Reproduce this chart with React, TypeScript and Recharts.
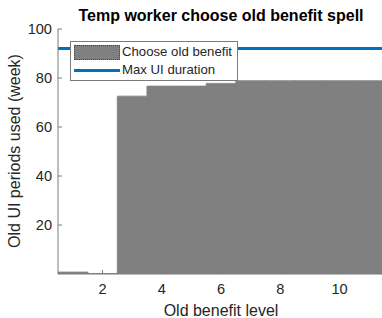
import { ComposedChart, Bar, XAxis, YAxis, ReferenceLine } from 'recharts';

const levels = [1, 2, 3, 4, 5, 6, 7, 8, 9, 10, 11];
const periodsUsed = [0.8, 0.2, 72.6, 76.7, 76.7, 77.8, 78.9, 78.9, 78.9, 78.9, 78.9];
const maxUiDuration = 92;
const xTicks = [2, 4, 6, 8, 10];
const yTicks = [20, 40, 60, 80, 100];

const data = levels.map((level, i) => ({ level, used: periodsUsed[i] }));

const font = '"Liberation Sans", Arial, Helvetica, sans-serif';
const ink = '#262626';
const axisStroke = '#7a7a7a';
const barGray = '#808080';
const lineBlue = '#0072BD';

function LegendBox() {
  return (
    <div
      style={{
        position: 'absolute',
        left: 70,
        top: 41,
        width: 166,
        height: 38,
        background: '#fff',
        border: `1px solid ${axisStroke}`,
        fontFamily: font,
        fontSize: 13.2,
        color: ink,
      }}
    >
      <div style={{ position: 'absolute', left: 3, top: 3, width: 44, height: 13, background: barGray, border: '1px dotted #444' }} />
      <div style={{ position: 'absolute', left: 51, top: 2, lineHeight: '16px' }}>Choose old benefit</div>
      <div style={{ position: 'absolute', left: 3, top: 27, width: 46, height: 3, background: lineBlue }} />
      <div style={{ position: 'absolute', left: 51, top: 20, lineHeight: '16px' }}>Max UI duration</div>
    </div>
  );
}

export default function App() {
  return (
    <div style={{ position: 'fixed', left: 0, top: 0, width: 382, height: 318, overflow: 'hidden', background: '#fff' }}>
      <ComposedChart
        width={400}
        height={318}
        data={data}
        margin={{ top: 29, right: 16, bottom: 14, left: 0 }}
        barCategoryGap={0}
        barGap={0}
      >
        <XAxis
          dataKey="level"
          type="number"
          domain={[0.5, 11.5]}
          ticks={xTicks}
          height={30}
          allowDataOverflow
          tickSize={-4}
          tickMargin={14}
          axisLine={{ stroke: axisStroke }}
          tickLine={{ stroke: axisStroke }}
          tick={{ fill: ink, fontSize: 14.6, fontFamily: font }}
        />
        <YAxis
          type="number"
          domain={[0, 100]}
          ticks={yTicks}
          width={58}
          allowDataOverflow
          tickSize={-4}
          tickMargin={10}
          axisLine={{ stroke: axisStroke }}
          tickLine={{ stroke: axisStroke }}
          tick={{ fill: ink, fontSize: 14.6, fontFamily: font }}
        />
        <Bar dataKey="used" fill={barGray} stroke={barGray} strokeWidth={0.8} isAnimationActive={false} />
        <ReferenceLine y={maxUiDuration} stroke={lineBlue} strokeWidth={3} />
      </ComposedChart>

      <div
        style={{
          position: 'absolute',
          left: 58,
          width: 326,
          top: 6,
          textAlign: 'center',
          fontFamily: font,
          fontWeight: 'bold',
          fontSize: 16,
          color: '#000',
          lineHeight: '20px',
        }}
      >
        Temp worker choose old benefit spell
      </div>
      <div
        style={{
          position: 'absolute',
          left: 58,
          width: 326,
          top: 301,
          textAlign: 'center',
          fontFamily: font,
          fontSize: 16,
          color: ink,
          lineHeight: '20px',
        }}
      >
        Old benefit level
      </div>
      <div
        style={{
          position: 'absolute',
          left: 15,
          top: 151,
          transform: 'translate(-50%, -50%) rotate(-90deg)',
          whiteSpace: 'nowrap',
          fontFamily: font,
          fontSize: 16,
          color: ink,
          lineHeight: '20px',
        }}
      >
        Old UI periods used (week)
      </div>
      <LegendBox />
    </div>
  );
}
